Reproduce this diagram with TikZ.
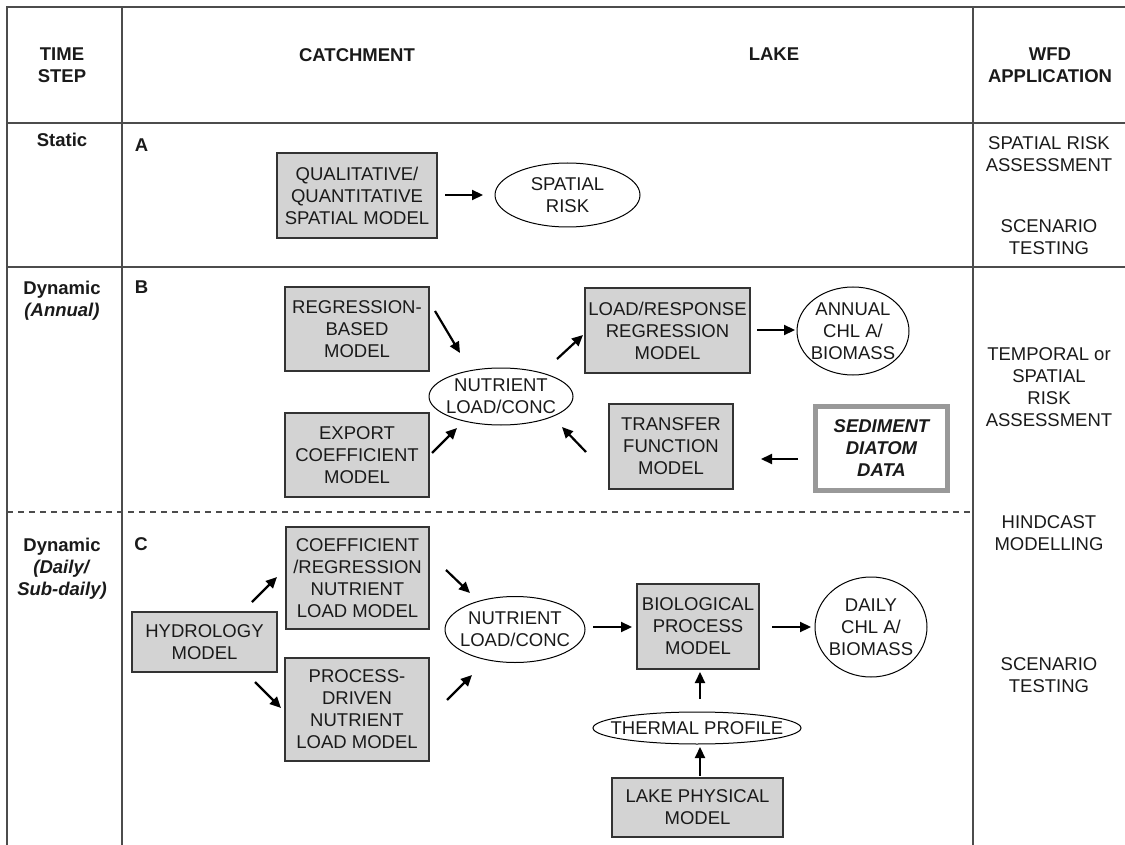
\documentclass[tikz,border=0pt]{standalone}
\usepackage{fontspec}
\setmainfont{Liberation Sans}
\usetikzlibrary{shapes.geometric,arrows.meta,calc}
\definecolor{boxgray}{HTML}{D3D3D3}
\definecolor{ink}{HTML}{1A1A1A}
\begin{document}
\begin{tikzpicture}[x=1pt,y=-1pt,
 every node/.style={font=\fontsize{18.5}{22}\selectfont, text=ink, inner sep=0pt},
 box/.style={draw=black!80, fill=boxgray, line width=1.2pt, align=center},
 ell/.style={ellipse, draw=black, line width=1pt, align=center, fill=white, inner sep=-25pt},
 arr/.style={-{Triangle[length=11pt,width=10pt]}, line width=2.2pt, draw=black},
 rule/.style={draw=black!70, line width=1.5pt},
 hdr/.style={font=\fontsize{18.5}{22}\selectfont\bfseries, align=center, anchor=north},
 wfd/.style={align=center, anchor=north}]
\useasboundingbox[fill=white] (0,0) rectangle (1125,845);
% table rules
\draw[rule] (7,845) -- (7,7) -- (1125,7);
\draw[rule] (122,7) -- (122,845);
\draw[rule] (973,7) -- (973,845);
\draw[rule] (7,123) -- (1125,123);
\draw[rule] (7,267) -- (1125,267);
\draw[draw=black!70, line width=1.3pt, dash pattern=on 6pt off 5pt] (7,512) -- (973,512);
% headers
\node[hdr] (ts) at (62,48) {TIME\\STEP};
\node[hdr] (ca) at (357,48) {CATCHMENT};
\node[hdr] (lkh) at (774,48) {LAKE};
\node[hdr] (wf) at (1050,48) {WFD\\APPLICATION};
% row labels
\node[hdr] (st) at (62,133) {Static};
\node[hdr] (la) at (141.5,139) {A};
\node[hdr] (dy1) at (62,281) {Dynamic\\\textit{(Annual)}};
\node[hdr] (lb) at (141.5,281) {B};
\node[hdr] (dy2) at (62,538) {Dynamic\\\textit{(Daily/}\\\textit{Sub-daily)}};
\node[hdr] (lc) at (141,537) {C};
% WFD application
\node[wfd] (w1) at (1049,136) {SPATIAL RISK\\ASSESSMENT};
\node[wfd] (w2) at (1049,219) {SCENARIO\\TESTING};
\node[wfd] (w3) at (1049,347) {TEMPORAL or\\SPATIAL\\RISK\\ASSESSMENT};
\node[wfd] (w4) at (1049,515) {HINDCAST\\MODELLING};
\node[wfd] (w5) at (1049,657) {SCENARIO\\TESTING};
% A
\node[box, minimum width=160, minimum height=85] (q) at (357,195.5) {QUALITATIVE/\\QUANTITATIVE\\SPATIAL MODEL};
\node[ell, minimum width=145, minimum height=64] (sr) at (567.5,195) {SPATIAL\\RISK};
% B
\node[box, minimum width=144, minimum height=84] (reg) at (357,329) {REGRESSION-\\BASED\\MODEL};
\node[box, minimum width=144, minimum height=84] (exp) at (357,455) {EXPORT\\COEFFICIENT\\MODEL};
\node[ell, minimum width=144, minimum height=57] (nut1) at (501,396.5) {NUTRIENT\\LOAD/CONC};
\node[box, minimum width=165, minimum height=85] (lr) at (667.5,330.5) {LOAD/RESPONSE\\REGRESSION\\MODEL};
\node[box, minimum width=124, minimum height=85] (tf) at (671,446.5) {TRANSFER\\FUNCTION\\MODEL};
\node[ell, minimum width=112, minimum height=88] (an) at (853,331) {ANNUAL\\CHL A/\\BIOMASS};
\node[draw=black!40, line width=5pt, fill=white, minimum width=132, minimum height=84, align=center,
      font=\fontsize{18.5}{22}\selectfont\bfseries\itshape] (sed) at (881.5,448.5) {SEDIMENT\\DIATOM\\DATA};
% C
\node[box, minimum width=145, minimum height=60] (hyd) at (204.5,642) {HYDROLOGY\\MODEL};
\node[box, minimum width=143, minimum height=102] (coef) at (357.5,578) {COEFFICIENT\\/REGRESSION\\NUTRIENT\\LOAD MODEL};
\node[box, minimum width=144, minimum height=103] (proc) at (357,709.5) {PROCESS-\\DRIVEN\\NUTRIENT\\LOAD MODEL};
\node[ell, minimum width=140, minimum height=66] (nut2) at (515,629.5) {NUTRIENT\\LOAD/CONC};
\node[box, minimum width=122, minimum height=85] (bio) at (698,626.5) {BIOLOGICAL\\PROCESS\\MODEL};
\node[ell, minimum width=112, minimum height=100] (dly) at (871,627) {DAILY\\CHL A/\\BIOMASS};
\node[ell, minimum width=208, minimum height=32] (th) at (697,728) {THERMAL PROFILE};
\node[box, minimum width=171, minimum height=59] (lk) at (697.5,807.5) {LAKE PHYSICAL\\MODEL};
% arrows A
\draw[arr] ($(q)+(88,-0.5)$) -- ($(sr)+(-84.5,0)$);
% arrows B
\draw[arr] ($(reg)+(78,-18)$) -- ($(nut1)+(-41,-43.5)$);
\draw[arr] ($(exp)+(75,-2)$) -- ($(nut1)+(-44,31.5)$);
\draw[arr] ($(nut1)+(56,-37.5)$) -- ($(lr)+(-84.5,4.5)$);
\draw[arr] ($(tf)+(-85,5.5)$) -- ($(nut1)+(61,30.5)$);
\draw[arr] ($(lr)+(89.5,-0.5)$) -- ($(an)+(-58,-1)$);
\draw[arr] ($(sed)+(-83.5,10.5)$) -- ($(tf)+(90,12.5)$);
% arrows C
\draw[arr] ($(hyd)+(47.5,-40)$) -- ($(coef)+(-80.5,-1)$);
\draw[arr] ($(hyd)+(50.5,40)$) -- ($(proc)+(-76,-1.5)$);
\draw[arr] ($(coef)+(88.5,-8)$) -- ($(nut2)+(-45,-36.5)$);
\draw[arr] ($(proc)+(90,-9.5)$) -- ($(nut2)+(-43,45.5)$);
\draw[arr] ($(nut2)+(78,-2.5)$) -- ($(bio)+(-66,0.5)$);
\draw[arr] ($(bio)+(74,0.5)$) -- ($(dly)+(-60,0)$);
\draw[arr] ($(th)+(3,-29)$) -- ($(bio)+(2,45.5)$);
\draw[arr] ($(lk)+(2.5,-31.5)$) -- ($(th)+(3,19)$);
\end{tikzpicture}
\end{document}
